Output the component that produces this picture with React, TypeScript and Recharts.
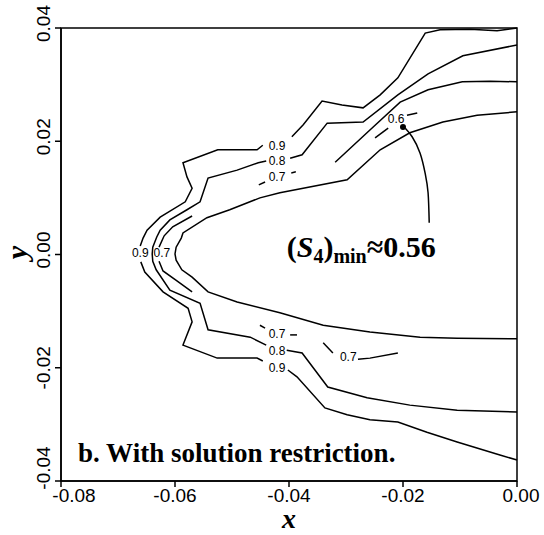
import React from "react";
import {
  ComposedChart,
  Line,
  Scatter,
  XAxis,
  YAxis,
  ReferenceArea,
  Label,
} from "recharts";

type Pt = { x: number; y: number };
type Tag = { x: number; y: number; text: string };

const xTicks = [-0.08, -0.06, -0.04, -0.02, 0];
const yTicks = [-0.04, -0.02, 0, 0.02, 0.04];

// S4 = 0.9
const level09Upper: Pt[] = [
  { x: -0.0661, y: 0.0015 },
  { x: -0.0656, y: 0.0029 },
  { x: -0.0649, y: 0.0043 },
  { x: -0.0626, y: 0.0066 },
  { x: -0.0582, y: 0.0093 },
  { x: -0.057, y: 0.0117 },
  { x: -0.0579, y: 0.0137 },
  { x: -0.0586, y: 0.0162 },
  { x: -0.0525, y: 0.0185 },
  { x: -0.0456, y: 0.0185 },
  { x: -0.0446, y: 0.0193 },
];
const level09UpperRight: Pt[] = [
  { x: -0.0395, y: 0.0208 },
  { x: -0.0375, y: 0.0229 },
  { x: -0.0342, y: 0.0271 },
  { x: -0.0307, y: 0.0264 },
  { x: -0.027, y: 0.0259 },
  { x: -0.024, y: 0.0282 },
  { x: -0.0209, y: 0.0312 },
  { x: -0.0161, y: 0.0391 },
  { x: -0.0135, y: 0.0397 },
  { x: -0.0082, y: 0.0398 },
  { x: -0.0035, y: 0.0395 },
  { x: 0, y: 0.04 },
];
const level09Lower: Pt[] = [
  { x: -0.066, y: -0.0013 },
  { x: -0.0653, y: -0.0031 },
  { x: -0.0621, y: -0.0066 },
  { x: -0.0577, y: -0.0095 },
  { x: -0.057, y: -0.0119 },
  { x: -0.0586, y: -0.016 },
  { x: -0.0526, y: -0.0183 },
  { x: -0.0456, y: -0.0183 },
  { x: -0.0446, y: -0.0188 },
];
const level09LowerRight: Pt[] = [
  { x: -0.0402, y: -0.0204 },
  { x: -0.0386, y: -0.0216 },
  { x: -0.0337, y: -0.0271 },
  { x: -0.0298, y: -0.0283 },
  { x: -0.0258, y: -0.0292 },
  { x: -0.0209, y: -0.0296 },
  { x: -0.0158, y: -0.0314 },
  { x: -0.0105, y: -0.0331 },
  { x: -0.003, y: -0.0354 },
  { x: 0, y: -0.0363 },
];

// S4 = 0.8
const level08Nose: Pt[] = [
  { x: -0.044, y: 0.0165 },
  { x: -0.0454, y: 0.0162 },
  { x: -0.0491, y: 0.0149 },
  { x: -0.0542, y: 0.0135 },
  { x: -0.0556, y: 0.0093 },
  { x: -0.0579, y: 0.0079 },
  { x: -0.0609, y: 0.0061 },
  { x: -0.0626, y: 0.0043 },
  { x: -0.0632, y: 0.0031 },
  { x: -0.0639, y: 0.0013 },
  { x: -0.064, y: 0.0001 },
  { x: -0.0639, y: -0.0012 },
  { x: -0.0633, y: -0.0027 },
  { x: -0.0609, y: -0.0063 },
  { x: -0.0556, y: -0.0086 },
  { x: -0.0542, y: -0.0133 },
  { x: -0.0468, y: -0.0146 },
  { x: -0.044, y: -0.016 },
];
const level08UpperRight: Pt[] = [
  { x: -0.0398, y: 0.017 },
  { x: -0.0377, y: 0.0176 },
  { x: -0.0333, y: 0.0232 },
  { x: -0.027, y: 0.0234 },
  { x: -0.0209, y: 0.0282 },
  { x: -0.0156, y: 0.0319 },
  { x: -0.0095, y: 0.0351 },
  { x: 0, y: 0.037 },
];
const level08LowerRight: Pt[] = [
  { x: -0.0404, y: -0.0169 },
  { x: -0.0377, y: -0.0174 },
  { x: -0.0332, y: -0.0234 },
  { x: -0.0263, y: -0.0253 },
  { x: -0.0188, y: -0.0266 },
  { x: -0.0105, y: -0.0275 },
  { x: 0, y: -0.0278 },
];

// S4 = 0.7 (broken into short pieces)
const level07NoseUpper: Pt[] = [
  { x: -0.057, y: 0.0068 },
  { x: -0.0604, y: 0.0049 },
  { x: -0.0619, y: 0.0033 },
  { x: -0.0628, y: 0.0013 },
];
const level07NoseLower: Pt[] = [
  { x: -0.0628, y: -0.0012 },
  { x: -0.0621, y: -0.0029 },
  { x: -0.0596, y: -0.0047 },
  { x: -0.057, y: -0.0066 },
];
const level07TickUL: Pt[] = [
  { x: -0.0453, y: 0.0123 },
  { x: -0.0442, y: 0.0128 },
];
const level07TickUR: Pt[] = [
  { x: -0.0396, y: 0.0144 },
  { x: -0.0388, y: 0.0146 },
];
const level07UpperRight: Pt[] = [
  { x: -0.0319, y: 0.0163 },
  { x: -0.0258, y: 0.022 },
  { x: -0.0205, y: 0.0269 },
  { x: -0.0156, y: 0.0291 },
  { x: -0.0096, y: 0.0305 },
  { x: -0.0047, y: 0.0306 },
  { x: 0, y: 0.0305 },
];
const level07TickLL: Pt[] = [
  { x: -0.0451, y: -0.0125 },
  { x: -0.0442, y: -0.013 },
];
const level07TickLR: Pt[] = [
  { x: -0.0398, y: -0.0142 },
  { x: -0.0386, y: -0.0142 },
];
const level07MidLeft: Pt[] = [
  { x: -0.034, y: -0.0156 },
  { x: -0.0323, y: -0.0174 },
];
const level07MidRight: Pt[] = [
  { x: -0.0279, y: -0.0185 },
  { x: -0.0258, y: -0.0183 },
  { x: -0.0209, y: -0.0174 },
];

// S4 = 0.6
const level06: Pt[] = [
  { x: 0, y: 0.0252 },
  { x: -0.007, y: 0.0246 },
  { x: -0.013, y: 0.0234 },
  { x: -0.0188, y: 0.0215 },
  { x: -0.024, y: 0.0185 },
  { x: -0.0298, y: 0.0132 },
  { x: -0.0416, y: 0.0109 },
  { x: -0.0451, y: 0.01 },
  { x: -0.0504, y: 0.0079 },
  { x: -0.0544, y: 0.0065 },
  { x: -0.0586, y: 0.0038 },
  { x: -0.0589, y: 0.0029 },
  { x: -0.0598, y: 0.0013 },
  { x: -0.06, y: 0.0001 },
  { x: -0.0598, y: -0.001 },
  { x: -0.0588, y: -0.0027 },
  { x: -0.057, y: -0.004 },
  { x: -0.0542, y: -0.0066 },
  { x: -0.0491, y: -0.0084 },
  { x: -0.0416, y: -0.0103 },
  { x: -0.034, y: -0.0125 },
  { x: -0.0258, y: -0.0137 },
  { x: -0.017, y: -0.0146 },
  { x: -0.0105, y: -0.0148 },
  { x: 0, y: -0.0149 },
];
const level06TickL: Pt[] = [
  { x: -0.0249, y: 0.0206 },
  { x: -0.0226, y: 0.0223 },
];
const level06TickR: Pt[] = [
  { x: -0.0193, y: 0.0246 },
  { x: -0.0175, y: 0.025 },
];

const contourPieces: Pt[][] = [
  level09Upper,
  level09UpperRight,
  level09Lower,
  level09LowerRight,
  level08Nose,
  level08UpperRight,
  level08LowerRight,
  level07NoseUpper,
  level07NoseLower,
  level07TickUL,
  level07TickUR,
  level07UpperRight,
  level07TickLL,
  level07TickLR,
  level07MidLeft,
  level07MidRight,
  level06,
  level06TickL,
  level06TickR,
];

const contourTags: Tag[] = [
  { x: -0.0421, y: 0.0193, text: "0.9" },
  { x: -0.0421, y: 0.0165, text: "0.8" },
  { x: -0.0421, y: 0.0137, text: "0.7" },
  { x: -0.0421, y: -0.014, text: "0.7" },
  { x: -0.0421, y: -0.0169, text: "0.8" },
  { x: -0.0421, y: -0.0199, text: "0.9" },
  { x: -0.0296, y: -0.0181, text: "0.7" },
  { x: -0.0661, y: 0.0003, text: "0.9" },
  { x: -0.0623, y: 0.0003, text: "0.7" },
  { x: -0.0212, y: 0.0239, text: "0.6" },
];

// location of the minimum and the leader to its note
const minPoint: Pt[] = [{ x: -0.02, y: 0.0225 }];
const minLeader: Pt[] = [
  { x: -0.0196, y: 0.0223 },
  { x: -0.0184, y: 0.0208 },
  { x: -0.017, y: 0.0179 },
  { x: -0.0161, y: 0.0143 },
  { x: -0.0156, y: 0.0109 },
  { x: -0.0154, y: 0.0056 },
];
const minNote: Pt[] = [{ x: -0.0404, y: -0.0004 }];
const caption: Pt[] = [{ x: -0.077, y: -0.0366 }];

const fmt = (v: number) => (v < 0 ? "-" + Math.abs(v).toFixed(2) : v.toFixed(2));
const tickFont = "'Liberation Sans', Arial, sans-serif";
const serif = "'Liberation Serif', 'Times New Roman', serif";

const XTick = (props: any) => {
  const { x, y, payload } = props;
  const v = payload.value as number;
  const shift = v === xTicks[0] ? 13 : v >= 0 ? 4 : 0;
  return (
    <text x={x + shift} y={y + 13} textAnchor="middle" fontFamily={tickFont} fontSize={19} fill="#000">
      {fmt(v)}
    </text>
  );
};

const YTick = (props: any) => {
  const { x, y, payload } = props;
  const v = payload.value as number;
  const shift = v === yTicks[0] ? 13 : v >= 0 ? 4.5 : 0;
  return (
    <text
      transform={`translate(${x - 3},${y - shift}) rotate(-90)`}
      textAnchor="middle"
      fontFamily={tickFont}
      fontSize={19}
      fill="#000"
    >
      {fmt(v)}
    </text>
  );
};

const TagShape = (p: any) => (
  <text x={p.cx} y={p.cy} dy="0.36em" textAnchor="middle" fontFamily={tickFont} fontSize={12} fill="#000">
    {p.payload.text}
  </text>
);

const NoteShape = (p: any) => (
  <text x={p.cx} y={p.cy} fontFamily={serif} fontWeight="bold" fontSize={30} fill="#000">
    (<tspan fontStyle="italic">S</tspan><tspan fontSize={20} dy={6}>4</tspan><tspan dy={-6}>)</tspan><tspan fontSize={20} dy={6}>min</tspan><tspan dy={-6}>≈0.56</tspan>
  </text>
);

const CaptionShape = (p: any) => (
  <text x={p.cx} y={p.cy} fontFamily={serif} fontWeight="bold" fontSize={27} fill="#000">
    b. With solution restriction.
  </text>
);

const DotShape = (p: any) => <circle cx={p.cx} cy={p.cy} r={3} fill="#000" />;

export default function App() {
  return (
    <div style={{ position: "absolute", left: 0, top: 0, width: 544, height: 535, background: "#fff" }}>
      <ComposedChart width={544} height={535} margin={{ top: 28, right: 27, left: 0, bottom: 0 }}>
        <XAxis
          type="number"
          dataKey="x"
          domain={[-0.08, 0]}
          ticks={xTicks}
          interval={0}
          height={54}
          stroke="#000"
          strokeWidth={1.5}
          tickSize={6}
          tick={<XTick />}
        >
          <Label
            content={(lp: any) => {
              const vb = lp.viewBox;
              return (
                <text x={vb.x + vb.width / 2} y={vb.y + 47} textAnchor="middle" fontFamily={serif} fontStyle="italic" fontWeight="bold" fontSize={28} fill="#000">
                  x
                </text>
              );
            }}
          />
        </XAxis>
        <YAxis
          type="number"
          dataKey="y"
          domain={[-0.04, 0.04]}
          ticks={yTicks}
          interval={0}
          width={61}
          stroke="#000"
          strokeWidth={1.5}
          tickSize={6}
          tick={<YTick />}
        >
          <Label
            content={(lp: any) => {
              const vb = lp.viewBox;
              return (
                <text
                  transform={`translate(26.5,${vb.y + vb.height / 2 - 2}) rotate(-90)`}
                  textAnchor="middle"
                  fontFamily={serif}
                  fontStyle="italic"
                  fontWeight="bold"
                  fontSize={30}
                  fill="#000"
                >
                  y
                </text>
              );
            }}
          />
        </YAxis>
        <ReferenceArea x1={-0.08} x2={0} y1={-0.04} y2={0.04} fill="none" fillOpacity={0} stroke="#000" strokeWidth={1.5} />
        {contourPieces.map((pts, i) => (
          <Line
            key={`c${i}`}
            data={pts}
            dataKey="y"
            type="linear"
            stroke="#000"
            strokeWidth={1.5}
            dot={false}
            activeDot={false}
            isAnimationActive={false}
          />
        ))}
        <Line
          data={minLeader}
          dataKey="y"
          type="natural"
          stroke="#000"
          strokeWidth={1.5}
          dot={false}
          activeDot={false}
          isAnimationActive={false}
        />
        <Scatter data={minPoint} shape={<DotShape />} isAnimationActive={false} />
        <Scatter data={contourTags} shape={<TagShape />} isAnimationActive={false} />
        <Scatter data={minNote} shape={<NoteShape />} isAnimationActive={false} />
        <Scatter data={caption} shape={<CaptionShape />} isAnimationActive={false} />
      </ComposedChart>
    </div>
  );
}
